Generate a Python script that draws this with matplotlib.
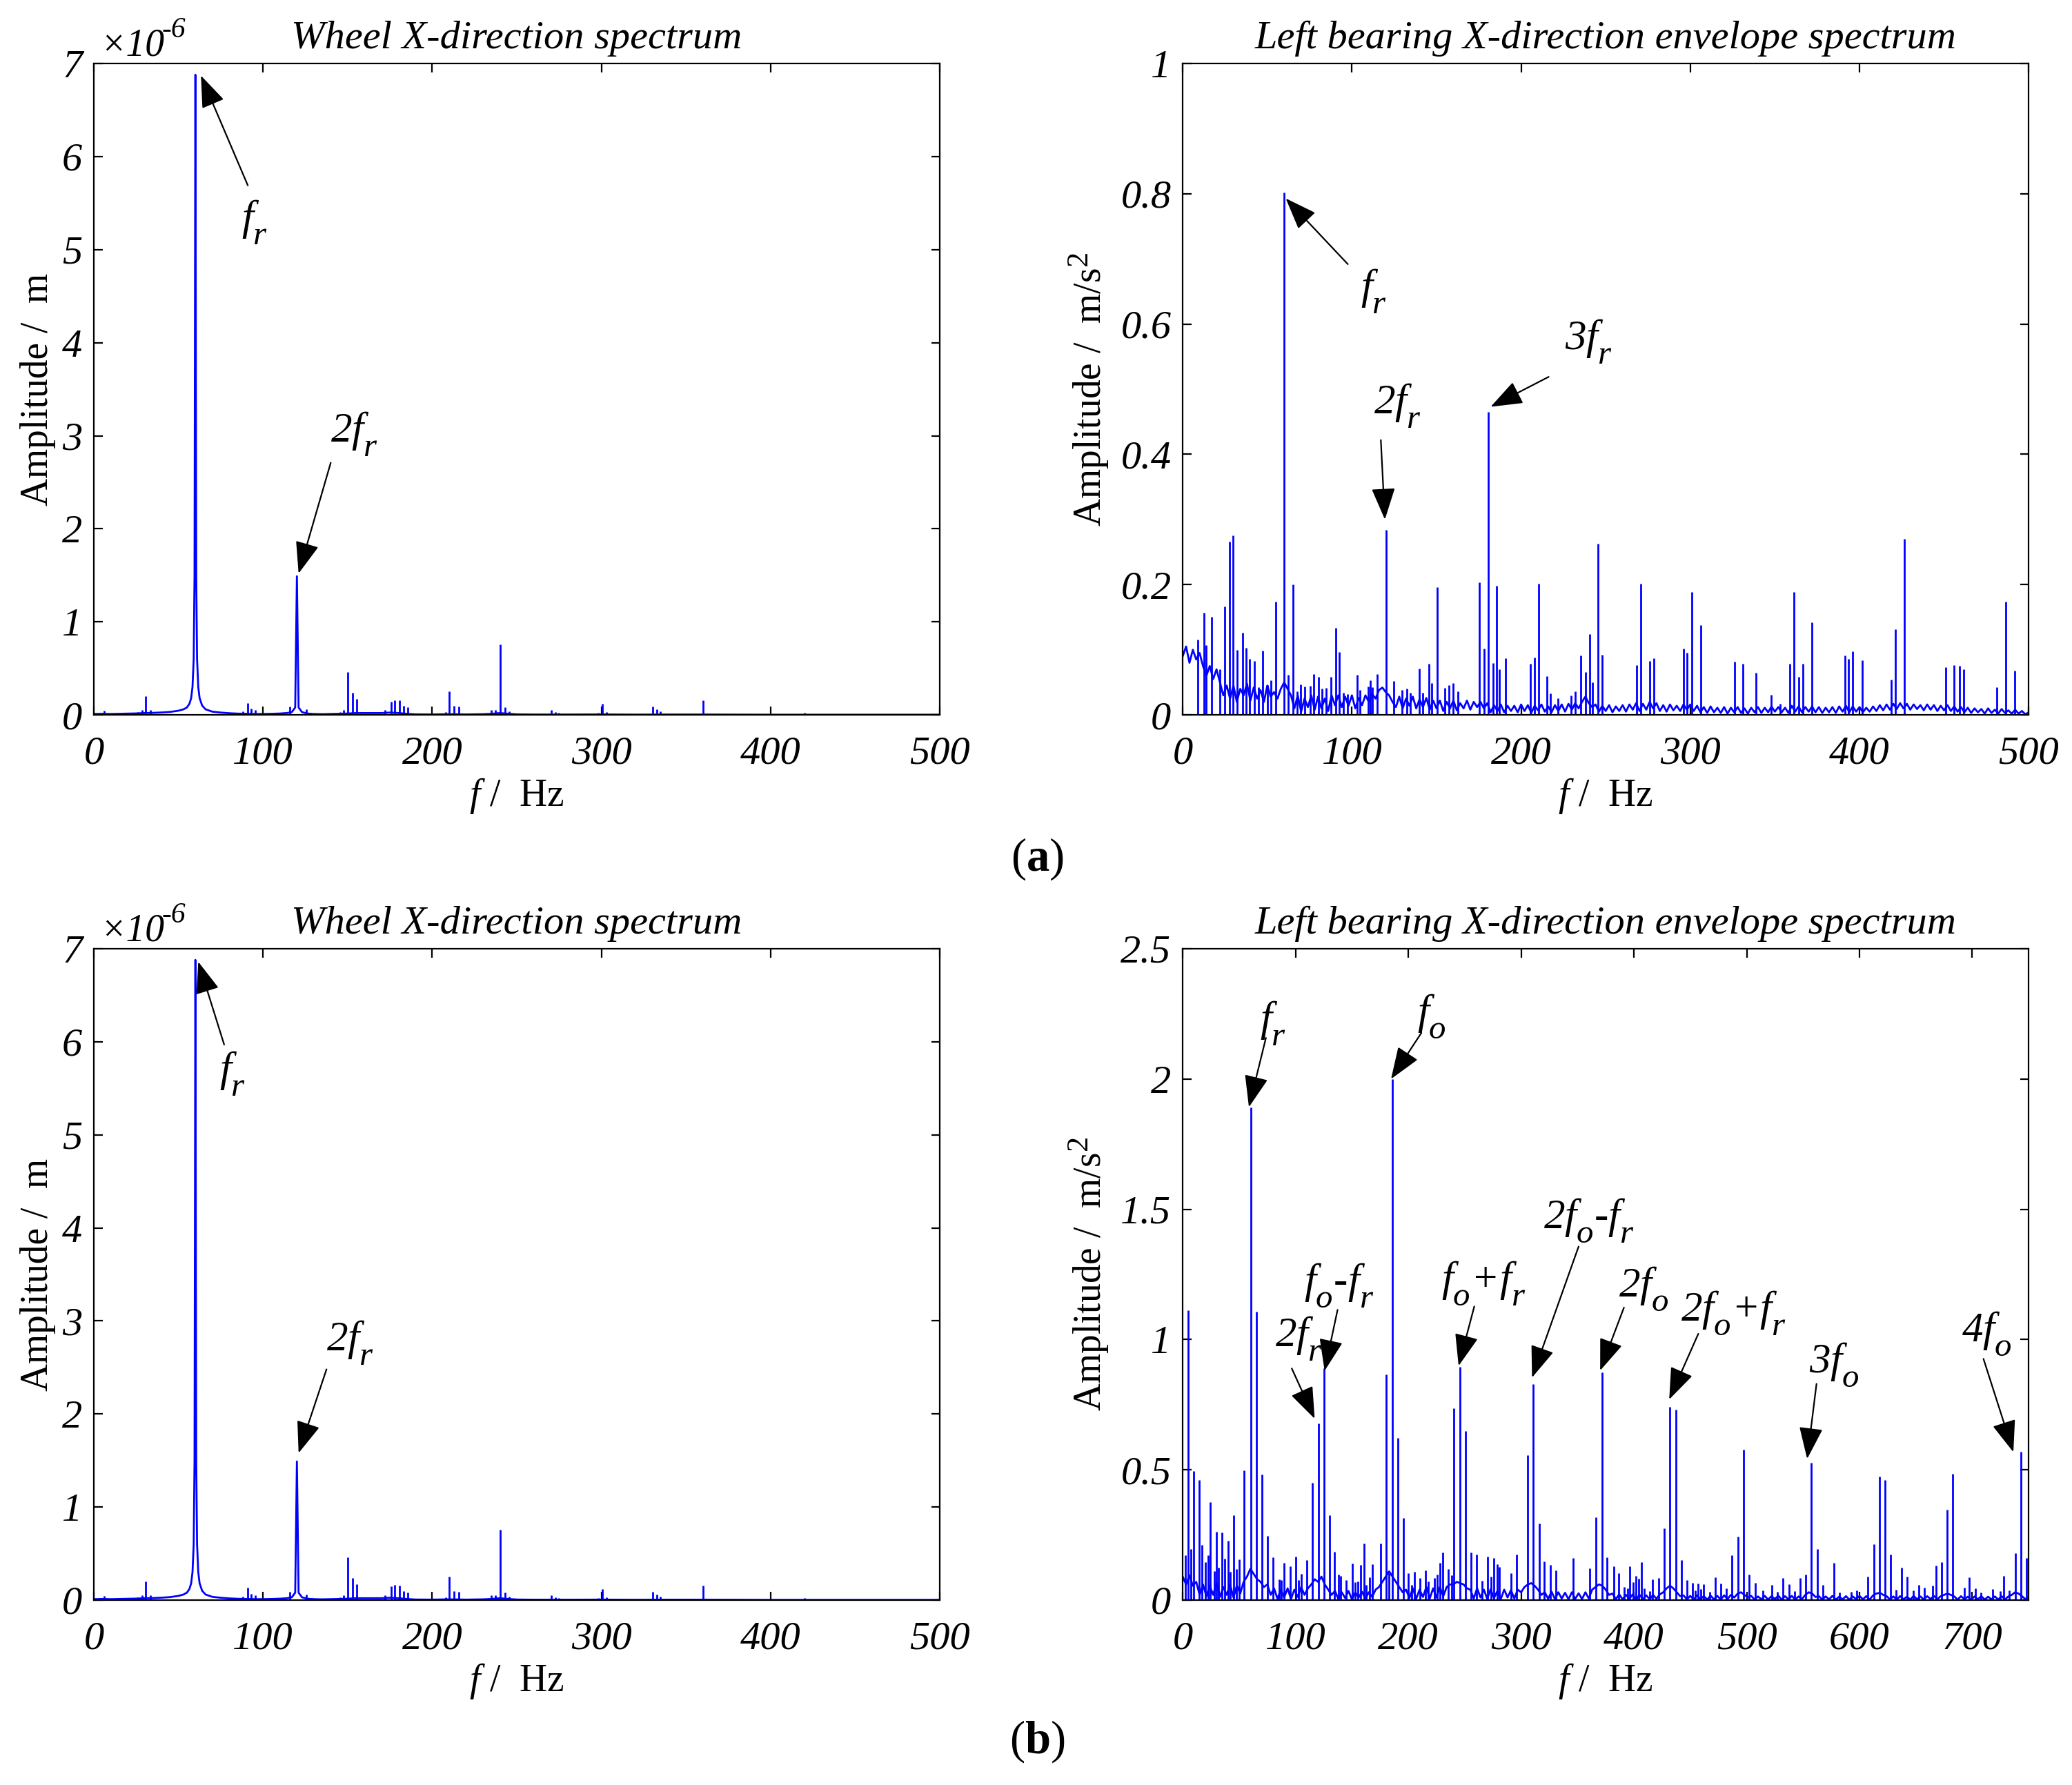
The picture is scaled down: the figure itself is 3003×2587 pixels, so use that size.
import numpy as np
import matplotlib
matplotlib.use('Agg')
import matplotlib.pyplot as plt
import matplotlib._mathtext as mtext

plt.rcParams['font.family'] = ['Liberation Serif', 'DejaVu Serif']
plt.rcParams['mathtext.fontset'] = 'custom'
plt.rcParams['mathtext.rm'] = 'Liberation Serif'
plt.rcParams['mathtext.it'] = 'Liberation Serif:italic'
plt.rcParams['mathtext.bf'] = 'Liberation Serif:bold'
# MATLAB-like big, low subscripts
mtext.SHRINK_FACTOR = 0.8
mtext.FontConstantsBase.sub1 = 0.75

BLUE = '#0000FF'
FS = 21
LW = 1.0

# ---- wheel spectrum (amplitude x 1e-6 m), same for (a) and (b) ----
wheel_line_f = [0, 5, 10, 15, 20, 25, 30, 35, 40, 45, 50, 53, 55, 56.5, 57.5, 58.3, 59, 59.5, 60, 60.5, 61, 61.7,
                62.5, 64, 66, 70, 75, 80, 85, 90, 95, 100, 105, 110, 114, 117, 119, 120, 121, 123, 126, 130, 135, 140,
                145, 150, 155, 160, 165, 170, 175, 180, 185, 190, 200, 210, 220, 230, 235, 240, 245, 250, 260, 280,
                300, 320, 340, 360, 380, 400, 450, 500]
wheel_line_a = [0.01, 0.012, 0.01, 0.012, 0.014, 0.016, 0.02, 0.022, 0.026, 0.032, 0.045, 0.06, 0.08, 0.12, 0.18, 0.3,
                0.6, 1.5, 6.88, 1.5, 0.6, 0.3, 0.18, 0.1, 0.06, 0.035, 0.025, 0.018, 0.014, 0.012, 0.01, 0.01, 0.012,
                0.015, 0.02, 0.03, 0.08, 1.49, 0.08, 0.03, 0.015, 0.01, 0.008, 0.01, 0.012, 0.015, 0.02, 0.02, 0.02,
                0.02, 0.025, 0.02, 0.012, 0.006, 0.005, 0.008, 0.005, 0.008, 0.012, 0.02, 0.012, 0.006, 0.004, 0.004,
                0.005, 0.003, 0.004, 0.004, 0.003, 0.002, 0.002, 0.002]
wheel_peak_f = [6, 26, 28.4, 30.6, 33.5, 88, 90.8, 92.8, 95.5, 115.7, 125.7, 145.5, 147.6, 150, 153, 155.4, 172, 175.7,
                177.8, 180.5, 182.9, 185.6, 207.8, 210.2, 212.9, 215.6, 235, 237.4, 240, 243.2, 245.5, 270.4, 272.8,
                275, 298, 300.5, 303, 330.3, 332.7, 334.7, 360, 420]
wheel_peak_a = [0.045, 0.03, 0.05, 0.198, 0.05, 0.04, 0.13, 0.07, 0.05, 0.09, 0.06, 0.03, 0.05, 0.46, 0.235, 0.17, 0.05,
                0.145, 0.16, 0.155, 0.10, 0.08, 0.03, 0.255, 0.10, 0.09, 0.05, 0.05, 0.756, 0.08, 0.04, 0.05, 0.03,
                0.025, 0.02, 0.12, 0.03, 0.09, 0.06, 0.04, 0.155, 0.02]

# ---- (a) envelope spectrum, m/s^2; noise floor every 2 Hz from 0 to 500 ----
env_a_floor = [0.09, 0.105, 0.08, 0.1, 0.085, 0.095, 0.075,
               0.06, 0.075, 0.055, 0.07,
               0.05, 0.03, 0.045,
               0.025, 0.045, 0.02, 0.04, 0.03, 0.048, 0.022, 0.042, 0.025, 0.038, 0.02, 0.045, 0.028, 0.035, 0.025, 0.04,
               0.05, 0.04, 0.03,
               0.01, 0.03, 0.005, 0.025, 0.012, 0.03, 0.008, 0.028, 0.01, 0.025, 0.006, 0.03,
               0.015, 0.03, 0.012, 0.028, 0.014, 0.03, 0.01, 0.026, 0.015, 0.03,
               0.02, 0.032, 0.025, 0.038, 0.042, 0.035, 0.03, 0.02,
               0.012, 0.028, 0.01, 0.025, 0.014, 0.028, 0.01, 0.024, 0.012, 0.026, 0.008, 0.022,
               0.01, 0.022, 0.006, 0.02, 0.01, 0.022, 0.007, 0.018, 0.01, 0.022, 0.008, 0.02, 0.012,
               0.02, 0.01, 0.018, 0.004, 0.015, 0.006, 0.016, 0.004, 0.014, 0.006,
               0.014, 0.004, 0.016, 0.006, 0.015, 0.003, 0.014, 0.007, 0.016, 0.005,
               0.013, 0.004, 0.015, 0.006, 0.016, 0.005, 0.017, 0.008, 0.018, 0.01,
               0.02, 0.028, 0.018, 0.012, 0.016, 0.005, 0.014, 0.006, 0.015, 0.004, 0.013, 0.006,
               0.015, 0.005, 0.016, 0.008, 0.018, 0.006, 0.017, 0.008, 0.02, 0.01,
               0.018, 0.006, 0.015, 0.005, 0.016, 0.007, 0.014, 0.006, 0.016, 0.008,
               0.016, 0.006, 0.014, 0.004, 0.012, 0.003, 0.013, 0.004, 0.011, 0.003,
               0.012, 0.002, 0.011, 0.004, 0.012, 0.003, 0.01, 0.002, 0.011, 0.004,
               0.012, 0.003, 0.011, 0.004, 0.013, 0.005, 0.012, 0.004, 0.011, 0.003,
               0.014, 0.005, 0.013, 0.004, 0.012, 0.005, 0.013, 0.004, 0.012, 0.003,
               0.011, 0.004, 0.012, 0.003, 0.013, 0.005, 0.014, 0.004, 0.013, 0.005,
               0.012, 0.004, 0.011, 0.005, 0.013, 0.006, 0.015, 0.007, 0.016, 0.008,
               0.017, 0.009, 0.018, 0.01, 0.017, 0.008, 0.016, 0.009, 0.015, 0.007,
               0.016, 0.008, 0.015, 0.006, 0.014, 0.007, 0.015, 0.006, 0.013, 0.005,
               0.012, 0.004, 0.011, 0.003, 0.01, 0.004, 0.009, 0.002, 0.01, 0.003,
               0.008, 0.002, 0.009, 0.003, 0.007, 0.002, 0.008, 0.002, 0.006, 0.001, 0.004]
env_a_peak_f = [8.9, 12.4, 13.7, 17.0, 24.7, 27.5, 29.7, 35.3, 37.4, 39.5, 47.3, 55.1, 60.0, 65.3, 67.8, 77.3, 87.5,
                90.4, 92.5, 103, 111, 115, 120.4, 140, 145.4, 150.4, 160, 175.4, 178, 180.7, 183.5, 185.6, 190.6,
                205.4, 207.9, 210.4, 215.3, 235.4, 238, 240.4, 245.6, 247.8, 268.2, 270.7, 276, 278.5, 296, 298.2,
                301, 306, 326, 331, 339, 359, 361.4, 364, 366.4, 371.7, 391.4, 393.5, 396, 401.6, 418.6, 421, 426.3,
                451, 456, 459, 461.6, 481, 486.3, 491.6,
                21.9, 32.3, 42.3, 45, 50.2, 52.3, 62.5, 69.8, 72, 75.2, 80.2, 82.3, 84.8, 94.8, 97.3, 104.7, 109.7,
                112, 124.8, 129.8, 132.3, 134.7, 142, 147, 154.8, 157.2, 162.5, 187.3, 217.2, 221.9, 229.4, 232,
                242.2, 348, 353]
env_a_peak_a = [0.116, 0.157, 0.107, 0.150, 0.166, 0.266, 0.276, 0.126, 0.103, 0.086, 0.099, 0.174, 0.802, 0.200,
                0.036, 0.063, 0.058, 0.134, 0.097, 0.062, 0.053, 0.063, 0.284, 0.071, 0.079, 0.196, 0.049, 0.203,
                0.102, 0.465, 0.080, 0.198, 0.087, 0.078, 0.088, 0.201, 0.059, 0.091, 0.066, 0.124, 0.263, 0.092,
                0.076, 0.201, 0.083, 0.087, 0.102, 0.095, 0.189, 0.138, 0.082, 0.079, 0.065, 0.079, 0.189, 0.058,
                0.079, 0.142, 0.091, 0.086, 0.098, 0.084, 0.054, 0.131, 0.270, 0.073, 0.076, 0.075, 0.070, 0.043,
                0.174, 0.068,
                0.07, 0.1, 0.083, 0.042, 0.046, 0.053, 0.062, 0.047, 0.044, 0.045, 0.058, 0.04, 0.041, 0.034, 0.032,
                0.038, 0.044, 0.043, 0.052, 0.038, 0.04, 0.034, 0.034, 0.049, 0.041, 0.046, 0.036, 0.07, 0.033,
                0.026, 0.03, 0.036, 0.05, 0.031, 0.017]

# ---- (b) envelope spectrum, m/s^2; noise floor every 3 Hz from 0 to 750 ----
env_b_floor = [0.09, 0.06, 0.095, 0.055,
               0.07, 0.02, 0.06, 0.015, 0.055, 0.02, 0.065, 0.012, 0.05, 0.02, 0.06, 0.01, 0.055, 0.025, 0.07,
               0.09, 0.12, 0.1, 0.08, 0.07, 0.05, 0.06,
               0.02, 0.045, 0.005, 0.04, 0.01, 0.045, 0.004, 0.04, 0.012, 0.05, 0.02,
               0.045, 0.06, 0.08, 0.07, 0.09, 0.06, 0.04, 0.02,
               0.035, 0.004, 0.03, 0.008, 0.035, 0.003, 0.03, 0.01, 0.032, 0.005, 0.03, 0.012, 0.04,
               0.05, 0.07, 0.09, 0.11, 0.09, 0.07, 0.05, 0.03,
               0.04, 0.008, 0.045, 0.005, 0.04, 0.012, 0.05, 0.006, 0.045, 0.01, 0.05, 0.015, 0.05, 0.06,
               0.06, 0.07, 0.065, 0.06, 0.045,
               0.04, 0.006, 0.045, 0.01, 0.04, 0.005, 0.042, 0.008, 0.035, 0.004, 0.04, 0.01, 0.038, 0.006, 0.04, 0.03,
               0.05, 0.06, 0.065, 0.055, 0.04, 0.02,
               0.03, 0.005, 0.032, 0.004, 0.03, 0.006, 0.028, 0.003, 0.03, 0.005, 0.026, 0.004, 0.03, 0.006, 0.04,
               0.05, 0.06, 0.055, 0.04, 0.02,
               0.025, 0.004, 0.022, 0.003, 0.02, 0.005, 0.022, 0.002, 0.02, 0.004, 0.018, 0.003, 0.02, 0.005, 0.022, 0.03,
               0.045, 0.055, 0.045, 0.03, 0.015,
               0.018, 0.003, 0.016, 0.002, 0.018, 0.004, 0.015, 0.002, 0.017, 0.003,
               0.016, 0.002, 0.018, 0.004, 0.02, 0.01, 0.025, 0.03, 0.02, 0.01,
               0.016, 0.002, 0.014, 0.003, 0.016, 0.002, 0.015, 0.004, 0.017, 0.002,
               0.015, 0.003, 0.016, 0.002, 0.014, 0.004, 0.02, 0.03, 0.025, 0.012,
               0.015, 0.002, 0.014, 0.003, 0.016, 0.002, 0.013, 0.003, 0.015, 0.002,
               0.014, 0.004, 0.016, 0.003, 0.015, 0.002, 0.018, 0.025, 0.028, 0.02,
               0.015, 0.003, 0.014, 0.002, 0.015, 0.003, 0.013, 0.002, 0.016, 0.003,
               0.014, 0.002, 0.015, 0.004, 0.016, 0.003, 0.015, 0.02, 0.025, 0.02,
               0.014, 0.002, 0.015, 0.003, 0.013, 0.002, 0.014, 0.003, 0.015, 0.002, 0.013, 0.003,
               0.014, 0.002, 0.015, 0.003, 0.014, 0.02, 0.03, 0.025, 0.015, 0.004, 0.012]
env_b_peak_f = [2.4, 4.8, 7.3, 9.9, 14.4, 17.2, 20.2, 22.6, 24.7, 27.8, 29.9, 32, 35.1, 37.2, 40, 42.4, 44.9, 47.5,
                50.1, 54.6, 60.2, 65.2, 70.1, 75.1, 80, 85.4, 87.5, 90.1, 95.1, 100, 102.8, 104.9, 109.9, 115.1,
                120.2, 125.4, 130.4, 134.8, 138.1, 140.2, 144.9, 150.1, 152.9, 155.5, 157.9, 160.5, 162.8, 165.4,
                168.2, 175.3, 180.5, 183.1, 185.8, 190.6, 195.8, 200.2, 203.1, 205.4, 210.6, 215.3, 217.9, 223.1,
                225.4, 227.8, 230.8, 235.3, 238.4, 240.5, 245.9, 250.6, 255.8, 260.7, 265.4, 270.6, 273.2, 275.8,
                278.6, 280.9, 291.1, 295.8, 305.9, 310.8, 316, 320.5, 325.9, 331.1, 345.9, 360.9, 366.1, 371.6, 376,
                382, 386.7, 391.6, 394.2, 396.6, 399.1, 401.7, 404.3, 406.9, 409, 414, 416.6, 421.7, 426.9, 431.9,
                437, 442, 447.1, 451.9, 454.2, 456.8, 459.4, 462, 467.1, 472.3, 477.3, 482.2, 486.9, 492.1, 497,
                502.2, 507.4, 514.4, 522.2, 527.4, 532.3, 537.3, 542.4, 547.1, 552.3, 557.3, 562.4, 567.4, 577.5,
                582.4, 592.6, 597.7, 607.4, 612.6, 617.7, 622.7, 627.8, 632.6, 637.5, 642.4, 647.6, 652.8, 657.7,
                665, 667.6, 672.6, 677.7, 682.7, 692.8, 697.5, 702.7, 707.9, 718, 725, 727.9, 732.8, 738, 743.1,
                748.1]
env_b_peak_a = [0.171, 1.111, 0.195, 0.494, 0.46, 0.212, 0.146, 0.173, 0.375, 0.11, 0.261, 0.124, 0.259, 0.159, 0.228,
                0.109, 0.327, 0.118, 0.157, 0.498, 1.89, 1.106, 0.482, 0.245, 0.164, 0.08, 0.077, 0.144, 0.13, 0.168,
                0.077, 0.1, 0.154, 0.451, 0.679, 0.89, 0.327, 0.186, 0.097, 0.093, 0.077, 0.14, 0.069, 0.071, 0.135,
                0.217, 0.058, 0.088, 0.137, 0.217, 0.866, 0.104, 2.0, 0.623, 0.314, 0.104, 0.058, 0.108, 0.086, 0.115,
                0.071, 0.086, 0.097, 0.144, 0.183, 0.118, 0.096, 0.735, 0.896, 0.648, 0.183, 0.176, 0.073, 0.168,
                0.091, 0.162, 0.139, 0.128, 0.104, 0.175, 0.557, 0.83, 0.295, 0.149, 0.135, 0.115, 0.162, 0.122,
                0.319, 0.873, 0.165, 0.13, 0.103, 0.049, 0.044, 0.131, 0.069, 0.093, 0.082, 0.146, 0.046, 0.035,
                0.079, 0.086, 0.275, 0.742, 0.732, 0.154, 0.077, 0.066, 0.038, 0.064, 0.042, 0.06, 0.031, 0.088,
                0.064, 0.044, 0.172, 0.244, 0.576, 0.099, 0.066, 0.038, 0.057, 0.031, 0.086, 0.062, 0.034, 0.086,
                0.099, 0.527, 0.197, 0.057, 0.143, 0.029, 0.031, 0.038, 0.091, 0.214, 0.473, 0.46, 0.175, 0.04,
                0.124, 0.091, 0.038, 0.059, 0.047, 0.056, 0.132, 0.146, 0.348, 0.485, 0.047, 0.088, 0.044, 0.028,
                0.042, 0.035, 0.093, 0.038, 0.181, 0.569, 0.162]

# annotations: (label, text centre, arrow start, arrow tip)
wheel_ann_a = [(r'$f_r$', (95, 5.3), (91, 5.69), (63.3, 6.87)),
               (r'2$f_r$', (154, 3.02), (140, 2.71), (121, 1.52))]
wheel_ann_b = [(r'$f_r$', (82, 5.66), (77, 5.97), (61.7, 6.86)),
               (r'2$f_r$', (151.5, 2.77), (137.5, 2.48), (121, 1.58))]
env_a_ann = [(r'$f_r$', (113, 0.651), (97.6, 0.692), (60.9, 0.793)),
             (r'2$f_r$', (127, 0.475), (117.1, 0.422), (119.5, 0.30)),
             (r'3$f_r$', (240, 0.574), (216.3, 0.519), (182, 0.473))]
env_b_ann = [(r'$f_r$', (80.2, 2.215), (73.8, 2.158), (58.7, 1.892)),
             (r'$f_o$', (221, 2.24), (211.6, 2.177), (184.7, 2.0)),
             (r'2$f_r$', (103, 1.006), (96.7, 0.889), (117, 0.696)),
             (r'$f_o$-$f_r$', (138.6, 1.209), (137.3, 1.114), (125.8, 0.880)),
             (r'$f_o$+$f_r$', (266.6, 1.215), (258.5, 1.127), (244.6, 0.899)),
             (r'2$f_o$-$f_r$', (360, 1.456), (351, 1.357), (309.7, 0.854)),
             (r'2$f_o$', (408.6, 1.194), (391.2, 1.123), (370.1, 0.881)),
             (r'2$f_o$+$f_r$', (488.5, 1.103), (457.1, 1.022), (431.3, 0.770)),
             (r'3$f_o$', (577.8, 0.903), (561.9, 0.830), (553.6, 0.542)),
             (r'4$f_o$', (713, 1.022), (709.9, 0.926), (736.4, 0.568))]


def style_axes(ax, xticks, yticks, ylabels, xlim, ylim, title, ylabel, ylab_x):
    ax.set_xlim(*xlim)
    ax.set_ylim(*ylim)
    ax.set_xticks(xticks)
    ax.set_xticklabels([str(t) for t in xticks], fontstyle='italic', fontsize=FS)
    ax.set_yticks(yticks)
    ax.set_yticklabels(ylabels, fontstyle='italic', fontsize=FS)
    ax.tick_params(direction='in', length=4.5, width=0.8, top=True, right=True)
    ax.tick_params(axis='x', pad=11)
    ax.tick_params(axis='y', pad=6)
    for s in ax.spines.values():
        s.set_linewidth(0.8)
    ax.set_title(title, fontsize=FS, fontstyle='italic', pad=8)
    ax.set_ylabel(ylabel, fontsize=FS - 1)
    ax.set_xlabel(r'$f$ /  Hz', fontsize=FS - 1)
    ax.yaxis.set_label_coords(ylab_x, 0.5)
    ax.xaxis.set_label_coords(0.5, -0.094)


def annotate(ax, items):
    for label, txt, start, tip in items:
        ax.annotate('', xy=tip, xytext=start,
                    arrowprops=dict(arrowstyle='-|>,head_length=0.8,head_width=0.3', color='k', lw=0.8,
                                    mutation_scale=18, shrinkA=0, shrinkB=0))
        ax.text(txt[0], txt[1], label, fontsize=FS + 1, fontstyle='italic', ha='center', va='center')


fig = plt.figure(figsize=(15.015, 12.935), dpi=200)
W, H = 0.4083, 0.3649
ax_wa = fig.add_axes([0.0453, 0.5995, W, H])
ax_ea = fig.add_axes([0.5708, 0.5995, W, H])
ax_wb = fig.add_axes([0.0453, 0.1036, W, H])
ax_eb = fig.add_axes([0.5708, 0.1036, W, H])

for ax, ann in [(ax_wa, wheel_ann_a), (ax_wb, wheel_ann_b)]:
    ax.plot(wheel_line_f, wheel_line_a, color=BLUE, lw=LW)
    ax.vlines(wheel_peak_f, 0, wheel_peak_a, color=BLUE, lw=LW)
    style_axes(ax, [0, 100, 200, 300, 400, 500], [0, 1, 2, 3, 4, 5, 6, 7], [str(v) for v in range(8)],
               (0, 500), (0, 7), 'Wheel X-direction spectrum', 'Amplitude /  m', -0.045)
    ax.text(0.0073, 1.0127, '\u00d710', transform=ax.transAxes, fontsize=20, fontstyle='italic',
            ha='left', va='baseline')
    ax.text(0.08, 1.040, '-6', transform=ax.transAxes, fontsize=15, fontstyle='italic',
            ha='left', va='baseline')
    annotate(ax, ann)

freq_a = np.arange(len(env_a_floor)) * 2
ax_ea.plot(freq_a, env_a_floor, color=BLUE, lw=LW)
ax_ea.vlines(env_a_peak_f, 0, env_a_peak_a, color=BLUE, lw=LW)
style_axes(ax_ea, [0, 100, 200, 300, 400, 500], [0, 0.2, 0.4, 0.6, 0.8, 1], ['0', '0.2', '0.4', '0.6', '0.8', '1'],
           (0, 500), (0, 1), 'Left bearing X-direction envelope spectrum', r'Amplitude /  m/s$^2$', -0.085)
annotate(ax_ea, env_a_ann)

freq_b = np.arange(len(env_b_floor)) * 3
ax_eb.plot(freq_b, env_b_floor, color=BLUE, lw=LW)
ax_eb.vlines(env_b_peak_f, 0, env_b_peak_a, color=BLUE, lw=LW)
style_axes(ax_eb, [0, 100, 200, 300, 400, 500, 600, 700], [0, 0.5, 1, 1.5, 2, 2.5],
           ['0', '0.5', '1', '1.5', '2', '2.5'], (0, 750), (0, 2.5),
           'Left bearing X-direction envelope spectrum', r'Amplitude /  m/s$^2$', -0.085)
annotate(ax_eb, env_b_ann)

fig.text(0.5005, 0.5187, r'($\mathbf{a}$)', fontsize=FS + 3, ha='center', va='center')
fig.text(0.5005, 0.0244, r'($\mathbf{b}$)', fontsize=FS + 3, ha='center', va='center')

fig.savefig('out.png', dpi=200, facecolor='white')
